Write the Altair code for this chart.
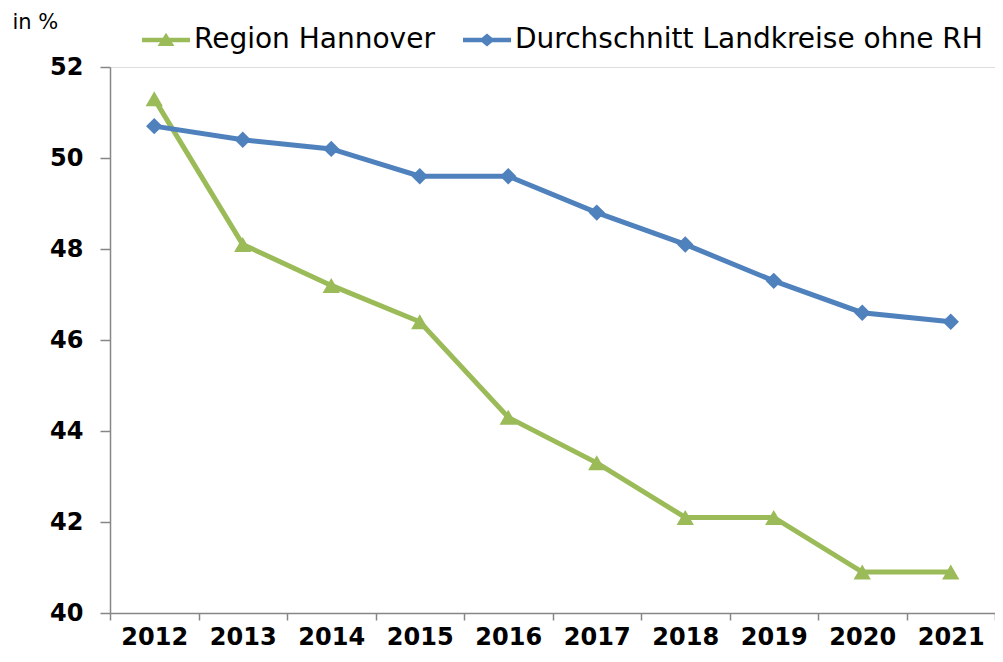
import altair as alt
import pandas as pd

years = ["2012", "2013", "2014", "2015", "2016", "2017", "2018", "2019", "2020", "2021"]
hannover = [51.3, 48.1, 47.2, 46.4, 44.3, 43.3, 42.1, 42.1, 40.9, 40.9]
landkreise = [50.7, 50.4, 50.2, 49.6, 49.6, 48.8, 48.1, 47.3, 46.6, 46.4]
series_names = ["Region Hannover", "Durchschnitt Landkreise ohne RH"]
y_ticks = [40, 42, 44, 46, 48, 50, 52]

rows = []
for name, vals in zip(series_names, [hannover, landkreise]):
    for yr, v in zip(years, vals):
        rows.append({"Jahr": yr, "Reihe": name, "Wert": v})
df = pd.DataFrame(rows)

GREEN = "#9BBB59"
BLUE = "#4F81BD"
AXIS_GREY = "#868686"
FONT = "DejaVu Sans"

# legend symbols: line segment + marker (unit coordinates)
PATH_TRI = "M-2,-0.19H2V0.19H-2Z M0,-0.6L0.7,0.5H-0.7Z"
PATH_DIA = "M-2,-0.19H2V0.19H-2Z M0,-0.55L0.65,0L0,0.55L-0.65,0Z"

x = alt.X(
    "Jahr:O",
    sort=years,
    bandPosition=0.5,
    scale=alt.Scale(type="band", paddingInner=0, paddingOuter=0),
    axis=alt.Axis(
        title=None, labelAngle=0, tickBand="extent", tickSize=7, tickWidth=1.5,
        labelPadding=5, labelFont=FONT, labelFontSize=24, labelFontWeight="bold",
        labelColor="black", domainColor=AXIS_GREY, domainWidth=1.5,
        tickColor=AXIS_GREY, grid=False,
    ),
)
y = alt.Y(
    "Wert:Q",
    scale=alt.Scale(domain=[40, 52], nice=False, zero=False),
    axis=alt.Axis(
        values=y_ticks, title="in %", titleAngle=0, titleAlign="left",
        titleBaseline="middle", titleX=-98, titleY=-45, titleFont=FONT,
        titleFontSize=21, titleFontWeight="normal", titleColor="black",
        tickSize=10, tickWidth=1.5, labelPadding=17, labelFont=FONT,
        labelFontSize=24, labelFontWeight="bold", labelColor="black",
        domainColor=AXIS_GREY, domainWidth=1.5, tickColor=AXIS_GREY, grid=False,
    ),
)

base = alt.Chart(df)

line_h = base.transform_filter(alt.datum.Reihe == series_names[0]).mark_line(
    color=GREEN, strokeWidth=5,
    point=alt.OverlayMarkDef(shape="triangle-up", size=300, filled=True, color=GREEN, opacity=1),
).encode(x=x, y=y)

line_l = base.transform_filter(alt.datum.Reihe == series_names[1]).mark_line(
    color=BLUE, strokeWidth=5,
    point=alt.OverlayMarkDef(shape="diamond", size=270, filled=True, color=BLUE, opacity=1),
).encode(x=x, y=y)

leg = dict(
    title=None, orient="none", legendX=42, legendY=-41, direction="horizontal",
    symbolSize=576, symbolStrokeWidth=0, symbolOpacity=1,
    labelFont=FONT, labelFontSize=28, labelColor="black", labelOffset=14,
    labelLimit=700, columnPadding=28, padding=0,
)

legend_layer = base.mark_point(filled=True, opacity=0).encode(
    x=x, y=y,
    color=alt.Color("Reihe:N", scale=alt.Scale(domain=series_names, range=[GREEN, BLUE]),
                    legend=alt.Legend(**leg)),
    shape=alt.Shape("Reihe:N", scale=alt.Scale(domain=series_names, range=[PATH_TRI, PATH_DIA]),
                    legend=alt.Legend(**leg)),
)

chart = alt.layer(line_h, line_l, legend_layer).properties(
    width=885, height=546,
    autosize=alt.AutoSizeParams(type="none"),
    padding={"left": 102, "top": 59, "right": 0, "bottom": 41},
).configure_view(stroke=None).configure(background="white")

chart.save("out.html", embed_options={"renderer": "svg", "actions": False})
